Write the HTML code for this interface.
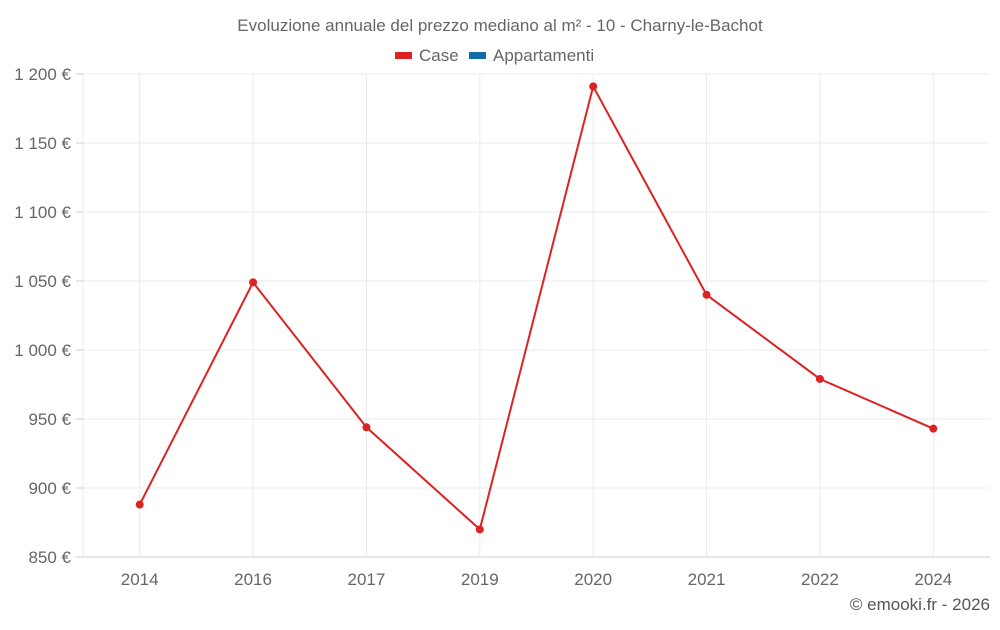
<!DOCTYPE html>
<html><head><meta charset="utf-8"><style>
body{margin:0;background:#fff;font-family:"Liberation Sans",sans-serif;}
svg text{font-family:"Liberation Sans",sans-serif;}
</style></head><body>
<svg id="chart" width="1000" height="625" xmlns="http://www.w3.org/2000/svg">
<text x="500" y="31" text-anchor="middle" font-size="17" fill="#666">Evoluzione annuale del prezzo mediano al m² - 10 - Charny-le-Bachot</text>
<g>
<g><rect x="395" y="52" width="17" height="7" fill="#dd2222"/><text x="419" y="61" font-size="17" fill="#666">Case</text></g>
<g><rect x="469" y="52" width="17" height="7" fill="#0f6ea8"/><text x="493" y="61" font-size="17" fill="#666">Appartamenti</text></g>
</g>
<g id="grid"></g><g id="axes"></g><g id="series"></g>
<text x="990" y="610" text-anchor="end" font-size="17" fill="#555">© emooki.fr - 2026</text>
</svg>
<script>
const categories=["2014","2016","2017","2019","2020","2021","2022","2024"];
const caseValues=[888,1049,944,870,1191,1040,979,943];
const yTicks=[850,900,950,1000,1050,1100,1150,1200];
const yTickLabels=["850 €","900 €","950 €","1 000 €","1 050 €","1 100 €","1 150 €","1 200 €"];
const L=83,R=990,T=74,B=557,yMin=850,yMax=1200;
const NS="http://www.w3.org/2000/svg";
const xs=i=>L+(R-L)/categories.length*(i+0.5);
const ys=v=>B-(v-yMin)/(yMax-yMin)*(B-T);
function mk(tag,attrs,parent){const e=document.createElementNS(NS,tag);for(const k in attrs)e.setAttribute(k,attrs[k]);document.getElementById(parent).appendChild(e);return e;}
yTicks.forEach((v,i)=>{
 const g=mk('line',{x1:L,x2:R,y1:ys(v),y2:ys(v),stroke:v===yMin?'#ccc':'#ebebeb','stroke-width':1},'grid');
 
 
 const tk=mk('line',{x1:L-7,x2:L,y1:ys(v),y2:ys(v),stroke:'#ccc'},'axes');
 
 
 const t=mk('text',{x:71,y:ys(v)+6,'text-anchor':'end','font-size':17,fill:'#666'},'axes');
 t.textContent=yTickLabels[i];
 
 
});
const ax=mk('line',{x1:L,x2:L,y1:T,y2:B,stroke:'#ebebeb'},'grid');


categories.forEach((c,i)=>{
 const g=mk('line',{x1:xs(i),x2:xs(i),y1:T,y2:B,stroke:'#ebebeb'},'grid');
 
 
 const t=mk('text',{x:xs(i),y:585,'text-anchor':'middle','font-size':17,fill:'#666'},'axes');
 t.textContent=c;
 
 
});
const pl=mk('polyline',{points:caseValues.map((v,i)=>xs(i)+','+ys(v)).join(' '),fill:'none',stroke:'#dd2222','stroke-width':2},'series');


caseValues.forEach((v,i)=>{
 const c=mk('circle',{cx:xs(i),cy:ys(v),r:4,fill:'#dd2222'},'series');
 
 
});
</script>
</body></html>
